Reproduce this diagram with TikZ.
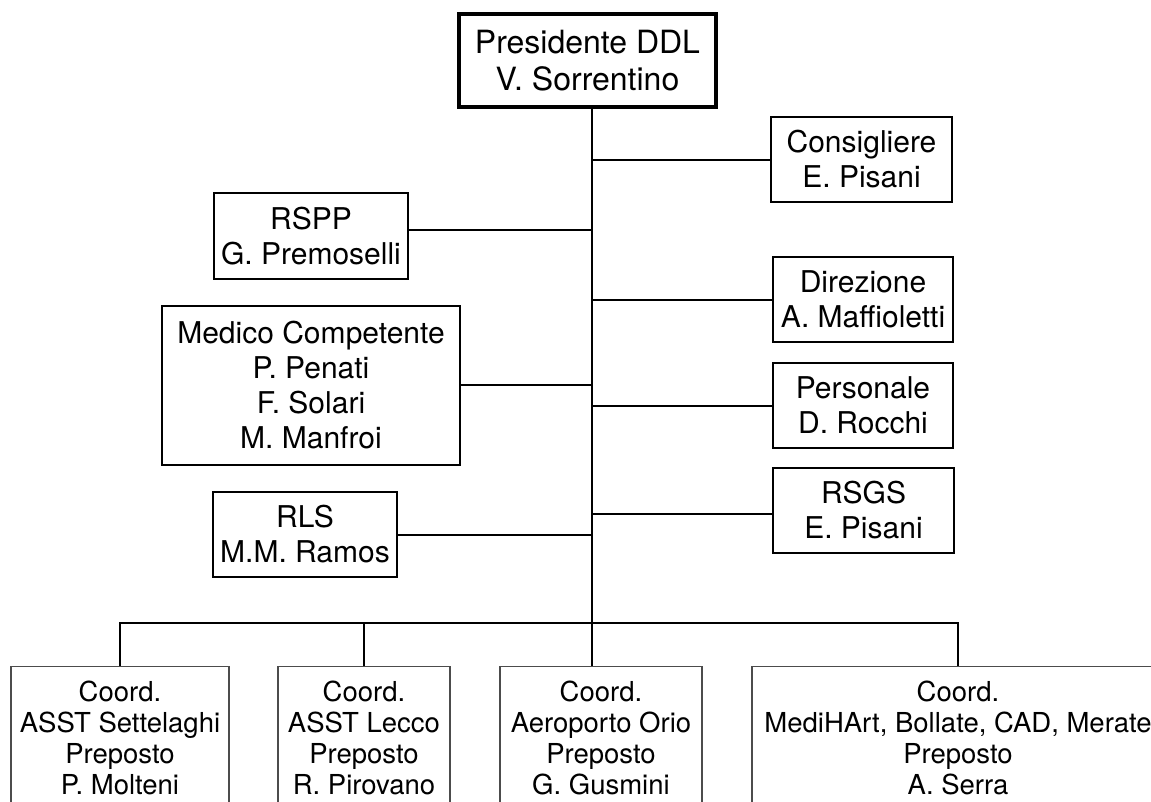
\documentclass[tikz,border=0pt]{standalone}
\usepackage{fontspec}
\setmainfont{TeX Gyre Heros}
\begin{document}
\begin{tikzpicture}[x=1pt,y=-1pt,
  box/.style={draw=black, line width=2.4pt, align=center, inner sep=0pt,
    font=\fontsize{30}{35}\selectfont},
  topbox/.style={box, line width=4pt, font=\fontsize{32}{37}\selectfont},
  lowbox/.style={draw=black!70, line width=1.3pt, align=center, inner sep=0pt,
    minimum height=142pt, anchor=north, font=\fontsize{27.5}{31}\selectfont},
  conn/.style={line width=2.4pt, line cap=rect}]
\useasboundingbox (0,0) rectangle (1151,802);
\clip (0,0) rectangle (1151,802);
\fill[white] (0,0) rectangle (1151,802);

% nodes
\node[topbox, minimum width=257pt, minimum height=93pt] (pres) at (587.5,60.5) {Presidente DDL\\V. Sorrentino};
\node[box, minimum width=181pt, minimum height=85pt] (cons) at (861.5,159.5) {Consigliere\\E. Pisani};
\node[box, minimum width=194pt, minimum height=86pt] (rspp) at (311,236) {RSPP\\G. Premoselli};
\node[box, minimum width=180pt, minimum height=85pt] (dir) at (863,299.5) {Direzione\\A. Maffioletti};
\node[box, minimum width=298pt, minimum height=159pt] (med) at (311,385.5) {Medico Competente\\P. Penati\\F. Solari\\M. Manfroi};
\node[box, minimum width=180pt, minimum height=85pt] (pers) at (863,405.5) {Personale\\D. Rocchi};
\node[box, minimum width=181pt, minimum height=85pt] (rsgs) at (863.5,510.5) {RSGS\\E. Pisani};
\node[box, minimum width=184pt, minimum height=85pt] (rls) at (305,534.5) {RLS\\M.M. Ramos};

\node[lowbox, minimum width=218pt] (b1) at (120,666) {Coord.\\ASST Settelaghi\\Preposto\\P. Molteni};
\node[lowbox, minimum width=172pt] (b2) at (364,666) {Coord.\\ASST Lecco\\Preposto\\R. Pirovano};
\node[lowbox, minimum width=202pt] (b3) at (601,666) {Coord.\\Aeroporto Orio\\Preposto\\G. Gusmini};
\node[lowbox, minimum width=412pt] (b4) at (958,666) {Coord.\\MediHArt, Bollate, CAD, Merate\\Preposto\\A. Serra};

% helper coordinates
\coordinate (sp) at (592,0);
\coordinate (ycons) at (0,160);
\coordinate (yrspp) at (0,230);
\coordinate (ydir) at (0,300);
\coordinate (ymed) at (0,385);
\coordinate (ypers) at (0,406);
\coordinate (yrsgs) at (0,514);
\coordinate (yrls) at (0,535);
\coordinate (bus) at (0,623);

% spine
\draw[line width=2.4pt] (pres.south -| sp) -- (b3.north -| sp);

% side connectors
\draw[conn] (sp |- ycons) -- (cons.west |- ycons);
\draw[conn] (sp |- yrspp) -- (rspp.east |- yrspp);
\draw[conn] (sp |- ydir) -- (dir.west |- ydir);
\draw[conn] (sp |- ymed) -- (med.east |- ymed);
\draw[conn] (sp |- ypers) -- (pers.west |- ypers);
\draw[conn] (sp |- yrsgs) -- (rsgs.west |- yrsgs);
\draw[conn] (sp |- yrls) -- (rls.east |- yrls);

% bus
\draw[line width=2.4pt] (b1.north) -- (b1.north |- bus) -- (b4.north |- bus) -- (b4.north);
\draw[line width=2.4pt] (b2.north) -- (b2.north |- bus);
\end{tikzpicture}
\end{document}
